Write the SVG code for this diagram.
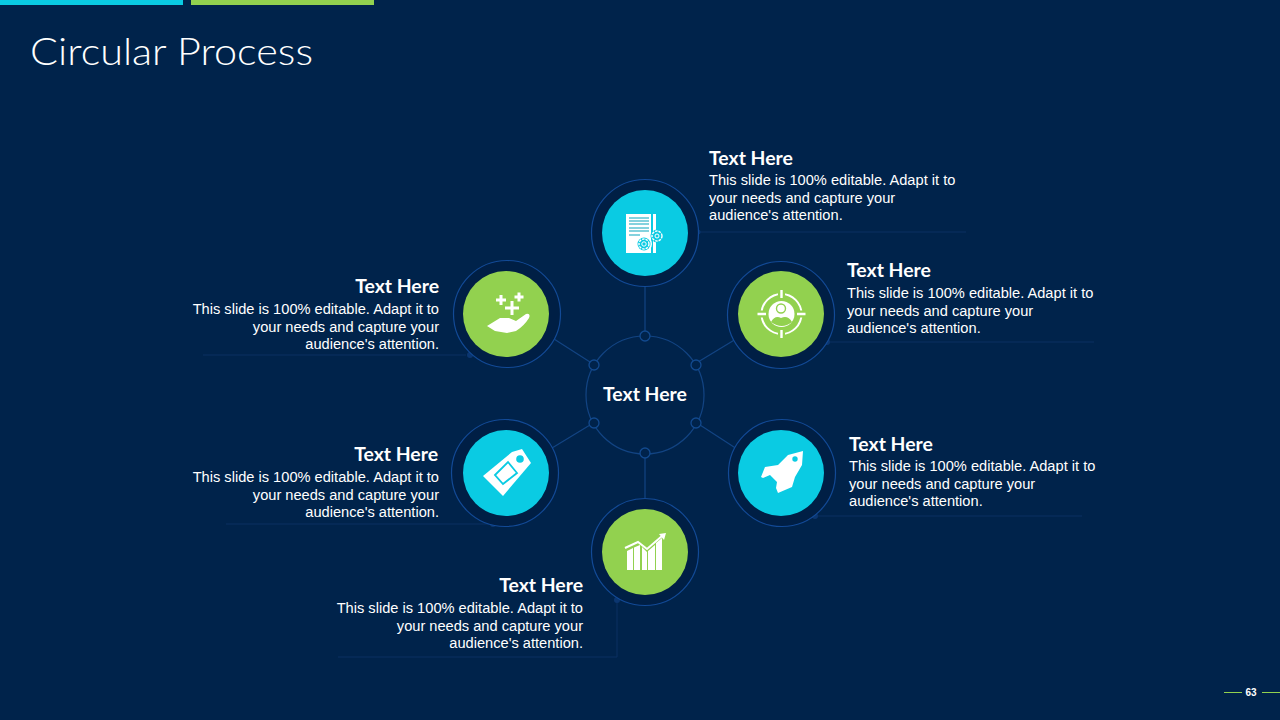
<svg xmlns="http://www.w3.org/2000/svg" width="1280" height="720" viewBox="0 0 1280 720">
<style>
.ring{fill:#001f45;stroke:#124a96;stroke-width:1.2}
.cy{fill:#0acbe3}.gr{fill:#92d14f}
.ln{fill:none;stroke:#124483;stroke-width:1.2}
.leader{fill:none;stroke:#0a3162;stroke-width:1}
.tip{fill:#0b3670}
.dot{fill:#00234b;stroke:#124a8f;stroke-width:1.3}
.h{font:bold 19.4px Lato,"Liberation Sans",sans-serif;fill:#fff}
.b{font:14.64px "Liberation Sans",Arial,sans-serif;fill:#fff}
.e{text-anchor:end}
.ic{fill:#fff}
</style>
<rect width="1280" height="720" fill="#00234b"/>
<rect x="0" y="0" width="183" height="5" fill="#0acbe3"/>
<rect x="191" y="0" width="183" height="5" fill="#92d14f"/>
<text id="title" x="30" y="65" font-family="Lato,'Open Sans',sans-serif" font-size="37" font-weight="300" fill="#fff" textLength="283" lengthAdjust="spacingAndGlyphs">Circular Process</text>
<g id="connectors">
<circle class="ln" cx="645" cy="395" r="59"/>
<path class="ln" d="M645 287V331M645 458V498M554 339L590 362M698 362L736 339M552 448L590 425M700 425L737 449"/>
<path class="leader" d="M697 232H966M825 342H1094M810 516H1082M466 355H203M497 524H226M617 598V657H338"/>
<circle class="tip" cx="698" cy="232" r="2.5"/>
<circle class="tip" cx="827" cy="342" r="3"/>
<circle class="tip" cx="815" cy="516" r="3"/>
<circle class="tip" cx="470" cy="355" r="3"/>
<circle class="tip" cx="493" cy="524" r="3"/>
<circle class="tip" cx="617" cy="600" r="3"/>
<circle class="dot" cx="645" cy="336" r="5"/>
<circle class="dot" cx="594" cy="365" r="5"/>
<circle class="dot" cx="696" cy="365" r="5"/>
<circle class="dot" cx="594" cy="423" r="5"/>
<circle class="dot" cx="696" cy="423" r="5"/>
<circle class="dot" cx="645" cy="453" r="5"/>
</g>
<g id="center"><text x="645" y="401" text-anchor="middle" font-family="Lato,'Liberation Sans',sans-serif" font-size="19.4" font-weight="700" fill="#fff">Text Here</text></g>
<g id="node-top">
<circle class="ring" cx="645" cy="233" r="53.5"/><circle class="cy" cx="645" cy="233" r="43"/>
<path class="ic" d="M626 214H651V253H626ZM653 214H656V253H653Z"/>
<path d="M629 218H649M629 221H649M629 224H649M629 228H649M629 231H649M629 235H640" stroke="#0aa5bd" stroke-width="1.2" fill="none"/>
<circle cx="644" cy="244" r="8" fill="#fff"/>
<circle cx="644" cy="244" r="6.5" fill="#0acbe3"/><circle cx="644" cy="244" r="5" fill="none" stroke="#fff" stroke-width="1.4" stroke-dasharray="2.5 1"/><circle cx="644" cy="244" r="2.2" fill="none" stroke="#fff" stroke-width="1"/>
<circle cx="657" cy="236" r="6.5" fill="#0acbe3"/><circle cx="657" cy="236" r="5" fill="none" stroke="#fff" stroke-width="1.4" stroke-dasharray="2.5 1"/><circle cx="657" cy="236" r="2" fill="none" stroke="#fff" stroke-width="1"/>
<text class="h" x="709" y="165">Text Here</text>
<text class="b" x="709" y="185">This slide is 100% editable. Adapt it to</text>
<text class="b" x="709" y="203">your needs and capture your</text>
<text class="b" x="709" y="220">audience's attention.</text>
</g>
<g id="node-right-top">
<circle class="ring" cx="781" cy="315" r="53.5"/><circle class="gr" cx="781" cy="314" r="43"/>
<circle cx="781.5" cy="314" r="20" fill="none" stroke="#fff" stroke-width="2"/>
<path d="M781.5 288V300M781.5 328V340M755 314H768M795 314H808" stroke="#92d14f" stroke-width="7"/>
<path d="M781.5 290V298M781.5 330V338M757.5 314H766M797 314H805.5" stroke="#fff" stroke-width="2.4"/>
<circle class="ic" cx="781.5" cy="314" r="13"/>
<circle cx="781" cy="308.500" r="4.5" fill="none" stroke="#92d14f" stroke-width="1.4"/>
<path d="M771 322Q775 315 781 318Q788 315 792 322Q782 330 771 322Z" fill="#92d14f"/>
<text class="h" x="847" y="277">Text Here</text>
<text class="b" x="847" y="298">This slide is 100% editable. Adapt it to</text>
<text class="b" x="847" y="316">your needs and capture your</text>
<text class="b" x="847" y="333">audience's attention.</text>
</g>
<g id="node-right-bottom">
<circle class="ring" cx="782" cy="473" r="53.5"/><circle class="cy" cx="781" cy="473" r="43"/>
<path class="ic" d="M803 451L802 465L795 477L792 487L778 493L776 488L777 482L770 475L763 478L761 477L765 467L778 465L788 455Z"/>
<circle class="cy" cx="795" cy="459" r="2.7"/>
<text class="h" x="849" y="451">Text Here</text>
<text class="b" x="849" y="471">This slide is 100% editable. Adapt it to</text>
<text class="b" x="849" y="489">your needs and capture your</text>
<text class="b" x="849" y="506">audience's attention.</text>
</g>
<g id="node-bottom">
<circle class="ring" cx="645" cy="552" r="53.5"/><circle class="gr" cx="645" cy="552" r="43"/>
<path class="ic" d="M627 551L633 548V570H627ZM634 547.500L640 545V570H634ZM642 547L647 552V570H642ZM648 551L655 545V570H648ZM656 543L662 538V570H656Z"/>
<path d="M625 548L638 542L647 549L662 536" fill="none" stroke="#fff" stroke-width="2"/>
<path class="ic" d="M659 534L666 533L664 540Z"/>
<text class="h e" x="583" y="592">Text Here</text>
<text class="b e" x="583" y="613">This slide is 100% editable. Adapt it to</text>
<text class="b e" x="583" y="631">your needs and capture your</text>
<text class="b e" x="583" y="648">audience's attention.</text>
</g>
<g id="node-left-bottom">
<circle class="ring" cx="505" cy="473" r="53.5"/><circle class="cy" cx="506" cy="473" r="43"/>
<path class="ic" d="M483 476L512 452L522 449L531 463L503 496Z"/>
<circle class="cy" cx="520" cy="459" r="3.8"/>
<path d="M495 475L508 462L517 473L503 484Z" fill="none" stroke="#0acbe3" stroke-width="1.8"/>
<text class="h e" x="438" y="461">Text Here</text>
<text class="b e" x="439" y="482">This slide is 100% editable. Adapt it to</text>
<text class="b e" x="439" y="500">your needs and capture your</text>
<text class="b e" x="439" y="517">audience's attention.</text>
</g>
<g id="node-left-top">
<circle class="ring" cx="507" cy="314" r="53.5"/><circle class="gr" cx="506" cy="314" r="43"/>
<path class="ic" d="M487 326L500 318H509L516 321L526 314Q531 313 529 318Q524 326 516 331L507 333L495 331Z"/>
<path d="M496 300H506M501 295V305M505 308H519M512 301V315M514.500 297H523.500M519 292.500V301.500" stroke="#fff" stroke-width="3" fill="none"/>
<text class="h e" x="439" y="293">Text Here</text>
<text class="b e" x="439" y="314">This slide is 100% editable. Adapt it to</text>
<text class="b e" x="439" y="332">your needs and capture your</text>
<text class="b e" x="439" y="349">audience's attention.</text>
</g>
<g id="page">
<path d="M1224 692.500H1242M1262 692.500H1280" stroke="#92d14f" stroke-width="1"/>
<text x="1251" y="696" text-anchor="middle" font-family="Liberation Sans,sans-serif" font-size="10" font-weight="700" fill="#fff">63</text>
</g>
</svg>
